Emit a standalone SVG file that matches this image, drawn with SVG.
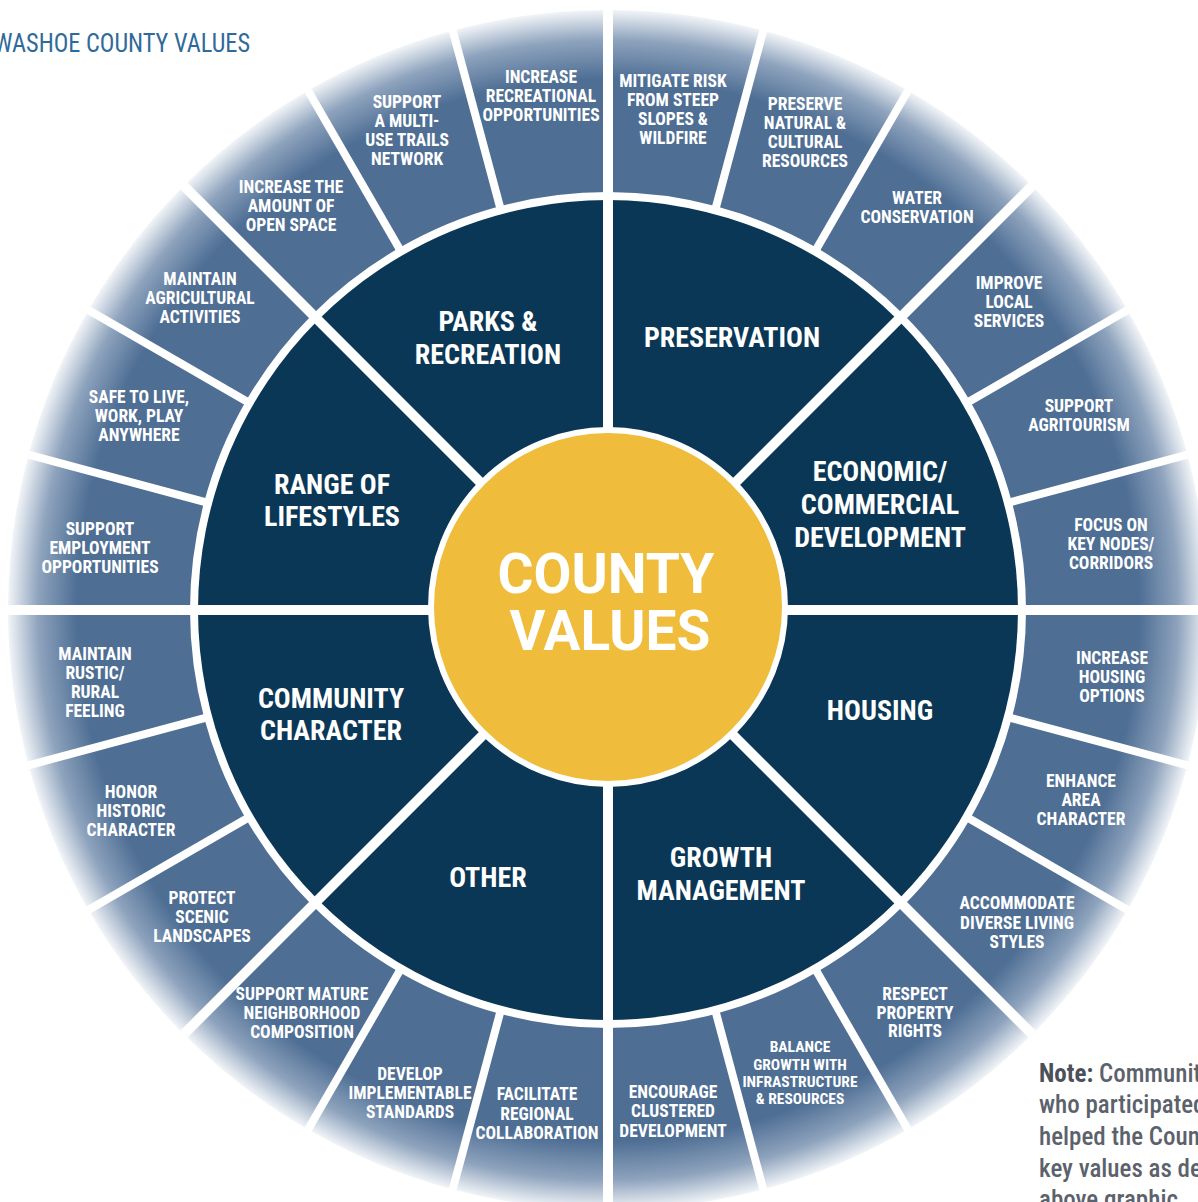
<svg xmlns="http://www.w3.org/2000/svg" width="1198" height="1202" viewBox="0 0 1198 1202">
<defs>
<radialGradient id="ringGrad" gradientUnits="userSpaceOnUse" cx="608" cy="610" r="600">
<stop offset="0" stop-color="#4e6e94"/>
<stop offset="0.885" stop-color="#4e6e94"/>
<stop offset="0.95" stop-color="#8ea3bd"/>
<stop offset="1" stop-color="#f2f5f8"/>
</radialGradient>
<style>
.outer{fill:url(#ringGrad);}
.dark{fill:#0b3756;}
.sep{stroke:#ffffff;stroke-width:8;fill:none;}
.sepm{stroke:#ffffff;stroke-width:10;fill:none;}
.ol{font-family:"Liberation Sans Narrow","Roboto Condensed","DejaVu Sans Condensed",sans-serif;font-weight:700;font-size:17.5px;fill:#ffffff;text-anchor:middle;}
.ols{font-size:15.5px;}
.dl{font-family:"Liberation Sans Narrow","Roboto Condensed","DejaVu Sans Condensed",sans-serif;font-weight:700;font-size:28px;fill:#ffffff;text-anchor:middle;}
.cv{font-family:Roboto,"Liberation Sans",sans-serif;font-weight:700;font-size:55px;fill:#ffffff;text-anchor:middle;}
.title{font-family:"Liberation Sans Narrow","Roboto Condensed","DejaVu Sans Condensed",sans-serif;font-size:26px;fill:#2f6a99;}
.note{font-family:"Liberation Sans Narrow","Roboto Condensed","DejaVu Sans Condensed",sans-serif;font-size:25px;fill:#5c626c;}
</style>
</defs>
<rect width="1198" height="1202" fill="#ffffff"/>
<text class="title" x="-6" y="52" textLength="256" lengthAdjust="spacingAndGlyphs">WASHOE COUNTY VALUES</text>

<!-- outer ring segments -->
<g id="seg-focus-key-nodes"><path class="outer" d="M1208 610 A600 600 0 0 0 1187.56 454.71 L1011.76 501.81 A418 418 0 0 1 1026 610 Z"/><text class="ol"><tspan x="1111" y="531">FOCUS ON</tspan><tspan x="1111" y="550">KEY NODES/</tspan><tspan x="1111" y="569">CORRIDORS</tspan></text></g>
<g id="seg-agritourism"><path class="outer" d="M1187.56 454.71 A600 600 0 0 0 1127.62 310 L970 401 A418 418 0 0 1 1011.76 501.81 Z"/><text class="ol"><tspan x="1079" y="412">SUPPORT</tspan><tspan x="1079" y="431">AGRITOURISM</tspan></text></g>
<g id="seg-local-services"><path class="outer" d="M1127.62 310 A600 600 0 0 0 1032.26 185.74 L903.57 314.43 A418 418 0 0 1 970 401 Z"/><text class="ol"><tspan x="1009" y="289">IMPROVE</tspan><tspan x="1009" y="308">LOCAL</tspan><tspan x="1009" y="327">SERVICES</tspan></text></g>
<g id="seg-water"><path class="outer" d="M1032.26 185.74 A600 600 0 0 0 908 90.38 L817 248 A418 418 0 0 1 903.57 314.43 Z"/><text class="ol"><tspan x="917" y="204">WATER</tspan><tspan x="917" y="223">CONSERVATION</tspan></text></g>
<g id="seg-preserve-natural"><path class="outer" d="M908 90.38 A600 600 0 0 0 763.29 30.44 L716.19 206.24 A418 418 0 0 1 817 248 Z"/><text class="ol"><tspan x="805" y="110">PRESERVE</tspan><tspan x="805" y="129">NATURAL &amp;</tspan><tspan x="805" y="148">CULTURAL</tspan><tspan x="805" y="167">RESOURCES</tspan></text></g>
<g id="seg-mitigate-risk"><path class="outer" d="M763.29 30.44 A600 600 0 0 0 608 10 L608 192 A418 418 0 0 1 716.19 206.24 Z"/><text class="ol"><tspan x="673" y="87">MITIGATE RISK</tspan><tspan x="673" y="106">FROM STEEP</tspan><tspan x="673" y="125">SLOPES &amp;</tspan><tspan x="673" y="144">WILDFIRE</tspan></text></g>
<g id="seg-recreational"><path class="outer" d="M608 10 A600 600 0 0 0 452.71 30.44 L499.81 206.24 A418 418 0 0 1 608 192 Z"/><text class="ol"><tspan x="541" y="83">INCREASE</tspan><tspan x="541" y="102">RECREATIONAL</tspan><tspan x="541" y="121">OPPORTUNITIES</tspan></text></g>
<g id="seg-trails"><path class="outer" d="M452.71 30.44 A600 600 0 0 0 308 90.38 L399 248 A418 418 0 0 1 499.81 206.24 Z"/><text class="ol"><tspan x="407" y="108">SUPPORT</tspan><tspan x="407" y="127">A MULTI-</tspan><tspan x="407" y="146">USE TRAILS</tspan><tspan x="407" y="165">NETWORK</tspan></text></g>
<g id="seg-open-space"><path class="outer" d="M308 90.38 A600 600 0 0 0 183.74 185.74 L312.43 314.43 A418 418 0 0 1 399 248 Z"/><text class="ol"><tspan x="291" y="193">INCREASE THE</tspan><tspan x="291" y="212">AMOUNT OF</tspan><tspan x="291" y="231">OPEN SPACE</tspan></text></g>
<g id="seg-agricultural"><path class="outer" d="M183.74 185.74 A600 600 0 0 0 88.38 310 L246 401 A418 418 0 0 1 312.43 314.43 Z"/><text class="ol"><tspan x="200" y="285">MAINTAIN</tspan><tspan x="200" y="304">AGRICULTURAL</tspan><tspan x="200" y="323">ACTIVITIES</tspan></text></g>
<g id="seg-safe"><path class="outer" d="M88.38 310 A600 600 0 0 0 28.44 454.71 L204.24 501.81 A418 418 0 0 1 246 401 Z"/><text class="ol"><tspan x="139" y="403">SAFE TO LIVE,</tspan><tspan x="139" y="422">WORK, PLAY</tspan><tspan x="139" y="441">ANYWHERE</tspan></text></g>
<g id="seg-employment"><path class="outer" d="M28.44 454.71 A600 600 0 0 0 8 610 L190 610 A418 418 0 0 1 204.24 501.81 Z"/><text class="ol"><tspan x="100" y="535">SUPPORT</tspan><tspan x="100" y="554">EMPLOYMENT</tspan><tspan x="100" y="573">OPPORTUNITIES</tspan></text></g>
<g id="seg-rustic"><path class="outer" d="M8 610 A600 600 0 0 0 28.44 765.29 L204.24 718.19 A418 418 0 0 1 190 610 Z"/><text class="ol"><tspan x="95" y="660">MAINTAIN</tspan><tspan x="95" y="679">RUSTIC/</tspan><tspan x="95" y="698">RURAL</tspan><tspan x="95" y="717">FEELING</tspan></text></g>
<g id="seg-historic"><path class="outer" d="M28.44 765.29 A600 600 0 0 0 88.38 910 L246 819 A418 418 0 0 1 204.24 718.19 Z"/><text class="ol"><tspan x="131" y="798">HONOR</tspan><tspan x="131" y="817">HISTORIC</tspan><tspan x="131" y="836">CHARACTER</tspan></text></g>
<g id="seg-scenic"><path class="outer" d="M88.38 910 A600 600 0 0 0 183.74 1034.26 L312.43 905.57 A418 418 0 0 1 246 819 Z"/><text class="ol"><tspan x="202" y="904">PROTECT</tspan><tspan x="202" y="923">SCENIC</tspan><tspan x="202" y="942">LANDSCAPES</tspan></text></g>
<g id="seg-mature"><path class="outer" d="M183.74 1034.26 A600 600 0 0 0 308 1129.62 L399 972 A418 418 0 0 1 312.43 905.57 Z"/><text class="ol"><tspan x="302" y="1000">SUPPORT MATURE</tspan><tspan x="302" y="1019">NEIGHBORHOOD</tspan><tspan x="302" y="1038">COMPOSITION</tspan></text></g>
<g id="seg-standards"><path class="outer" d="M308 1129.62 A600 600 0 0 0 452.71 1189.56 L499.81 1013.76 A418 418 0 0 1 399 972 Z"/><text class="ol"><tspan x="410" y="1080">DEVELOP</tspan><tspan x="410" y="1099">IMPLEMENTABLE</tspan><tspan x="410" y="1118">STANDARDS</tspan></text></g>
<g id="seg-regional"><path class="outer" d="M452.71 1189.56 A600 600 0 0 0 608 1210 L608 1028 A418 418 0 0 1 499.81 1013.76 Z"/><text class="ol"><tspan x="537" y="1100">FACILITATE</tspan><tspan x="537" y="1120">REGIONAL</tspan><tspan x="537" y="1139">COLLABORATION</tspan></text></g>
<g id="seg-clustered"><path class="outer" d="M608 1210 A600 600 0 0 0 763.29 1189.56 L716.19 1013.76 A418 418 0 0 1 608 1028 Z"/><text class="ol"><tspan x="673" y="1098">ENCOURAGE</tspan><tspan x="673" y="1117">CLUSTERED</tspan><tspan x="673" y="1137">DEVELOPMENT</tspan></text></g>
<g id="seg-balance"><path class="outer" d="M763.29 1189.56 A600 600 0 0 0 908 1129.62 L817 972 A418 418 0 0 1 716.19 1013.76 Z"/><text class="ol ols"><tspan x="800" y="1052">BALANCE</tspan><tspan x="800" y="1070">GROWTH WITH</tspan><tspan x="800" y="1087">INFRASTRUCTURE</tspan><tspan x="800" y="1104">&amp; RESOURCES</tspan></text></g>
<g id="seg-property"><path class="outer" d="M908 1129.62 A600 600 0 0 0 1032.26 1034.26 L903.57 905.57 A418 418 0 0 1 817 972 Z"/><text class="ol"><tspan x="915" y="1000">RESPECT</tspan><tspan x="915" y="1019">PROPERTY</tspan><tspan x="915" y="1037">RIGHTS</tspan></text></g>
<g id="seg-diverse"><path class="outer" d="M1032.26 1034.26 A600 600 0 0 0 1127.62 910 L970 819 A418 418 0 0 1 903.57 905.57 Z"/><text class="ol"><tspan x="1017" y="909">ACCOMMODATE</tspan><tspan x="1017" y="929">DIVERSE LIVING</tspan><tspan x="1017" y="948">STYLES</tspan></text></g>
<g id="seg-area-character"><path class="outer" d="M1127.62 910 A600 600 0 0 0 1187.56 765.29 L1011.76 718.19 A418 418 0 0 1 970 819 Z"/><text class="ol"><tspan x="1081" y="787">ENHANCE</tspan><tspan x="1081" y="806">AREA</tspan><tspan x="1081" y="825">CHARACTER</tspan></text></g>
<g id="seg-housing-options"><path class="outer" d="M1187.56 765.29 A600 600 0 0 0 1208 610 L1026 610 A418 418 0 0 1 1011.76 718.19 Z"/><text class="ol"><tspan x="1112" y="664">INCREASE</tspan><tspan x="1112" y="683">HOUSING</tspan><tspan x="1112" y="702">OPTIONS</tspan></text></g>

<!-- dark ring categories -->
<g id="cat-economic"><path class="dark" d="M608 610 L1018 610 A410 410 0 0 0 897.91 320.09 Z"/><text class="dl"><tspan x="880" y="481">ECONOMIC/</tspan><tspan x="880" y="514">COMMERCIAL</tspan><tspan x="880" y="547">DEVELOPMENT</tspan></text></g>
<g id="cat-preservation"><path class="dark" d="M608 610 L897.91 320.09 A410 410 0 0 0 608 200 Z"/><text class="dl" x="732" y="347">PRESERVATION</text></g>
<g id="cat-parks"><path class="dark" d="M608 610 L608 200 A410 410 0 0 0 318.09 320.09 Z"/><text class="dl"><tspan x="488" y="331">PARKS &amp;</tspan><tspan x="488" y="364">RECREATION</tspan></text></g>
<g id="cat-lifestyles"><path class="dark" d="M608 610 L318.09 320.09 A410 410 0 0 0 198 610 Z"/><text class="dl"><tspan x="332" y="494">RANGE OF</tspan><tspan x="332" y="526">LIFESTYLES</tspan></text></g>
<g id="cat-community"><path class="dark" d="M608 610 L198 610 A410 410 0 0 0 318.09 899.91 Z"/><text class="dl"><tspan x="331" y="708">COMMUNITY</tspan><tspan x="331" y="740">CHARACTER</tspan></text></g>
<g id="cat-other"><path class="dark" d="M608 610 L318.09 899.91 A410 410 0 0 0 608 1020 Z"/><text class="dl" x="488" y="887">OTHER</text></g>
<g id="cat-growth"><path class="dark" d="M608 610 L608 1020 A410 410 0 0 0 897.91 899.91 Z"/><text class="dl"><tspan x="721" y="867">GROWTH</tspan><tspan x="721" y="900">MANAGEMENT</tspan></text></g>
<g id="cat-housing"><path class="dark" d="M608 610 L897.91 899.91 A410 410 0 0 0 1018 610 Z"/><text class="dl" x="880" y="720">HOUSING</text></g>

<!-- separators -->
<g id="connectors">
<line class="sepm" x1="608" y1="610" x2="1208" y2="610"/>
<line class="sepm" x1="608" y1="610" x2="1032.26" y2="185.74"/>
<line class="sepm" x1="608" y1="610" x2="608" y2="10"/>
<line class="sepm" x1="608" y1="610" x2="183.74" y2="185.74"/>
<line class="sepm" x1="608" y1="610" x2="8" y2="610"/>
<line class="sepm" x1="608" y1="610" x2="183.74" y2="1034.26"/>
<line class="sepm" x1="608" y1="610" x2="608" y2="1210"/>
<line class="sepm" x1="608" y1="610" x2="1032.26" y2="1034.26"/>
<line class="sep" x1="1007.90" y1="502.85" x2="1187.56" y2="454.71"/>
<line class="sep" x1="966.53" y1="403" x2="1127.62" y2="310"/>
<line class="sep" x1="815" y1="251.47" x2="908" y2="90.38"/>
<line class="sep" x1="715.15" y1="210.10" x2="763.29" y2="30.44"/>
<line class="sep" x1="500.85" y1="210.10" x2="452.71" y2="30.44"/>
<line class="sep" x1="401" y1="251.47" x2="308" y2="90.38"/>
<line class="sep" x1="249.47" y1="403" x2="88.38" y2="310"/>
<line class="sep" x1="208.10" y1="502.85" x2="28.44" y2="454.71"/>
<line class="sep" x1="208.10" y1="717.15" x2="28.44" y2="765.29"/>
<line class="sep" x1="249.47" y1="817" x2="88.38" y2="910"/>
<line class="sep" x1="401" y1="968.53" x2="308" y2="1129.62"/>
<line class="sep" x1="500.85" y1="1009.90" x2="452.71" y2="1189.56"/>
<line class="sep" x1="715.15" y1="1009.90" x2="763.29" y2="1189.56"/>
<line class="sep" x1="815" y1="968.53" x2="908" y2="1129.62"/>
<line class="sep" x1="966.53" y1="817" x2="1127.62" y2="910"/>
<line class="sep" x1="1007.90" y1="717.15" x2="1187.56" y2="765.29"/>
</g>

<!-- center -->
<g id="center">
<circle cx="608" cy="607" r="177" fill="#efbd3b" stroke="#ffffff" stroke-width="6"/>
<text class="cv"><tspan x="606" y="593">COUNTY</tspan><tspan x="610" y="650">VALUES</tspan></text>
</g>

<text class="note"><tspan x="1039" y="1082" font-weight="700" fill="#4b5059">Note:</tspan><tspan font-weight="500"> Community</tspan><tspan x="1039" y="1113" font-weight="500">who participated</tspan><tspan x="1039" y="1145" font-weight="500">helped the County</tspan><tspan x="1039" y="1177" font-weight="500">key values as depicted</tspan><tspan x="1039" y="1208" font-weight="500">above graphic.</tspan></text>
</svg>
